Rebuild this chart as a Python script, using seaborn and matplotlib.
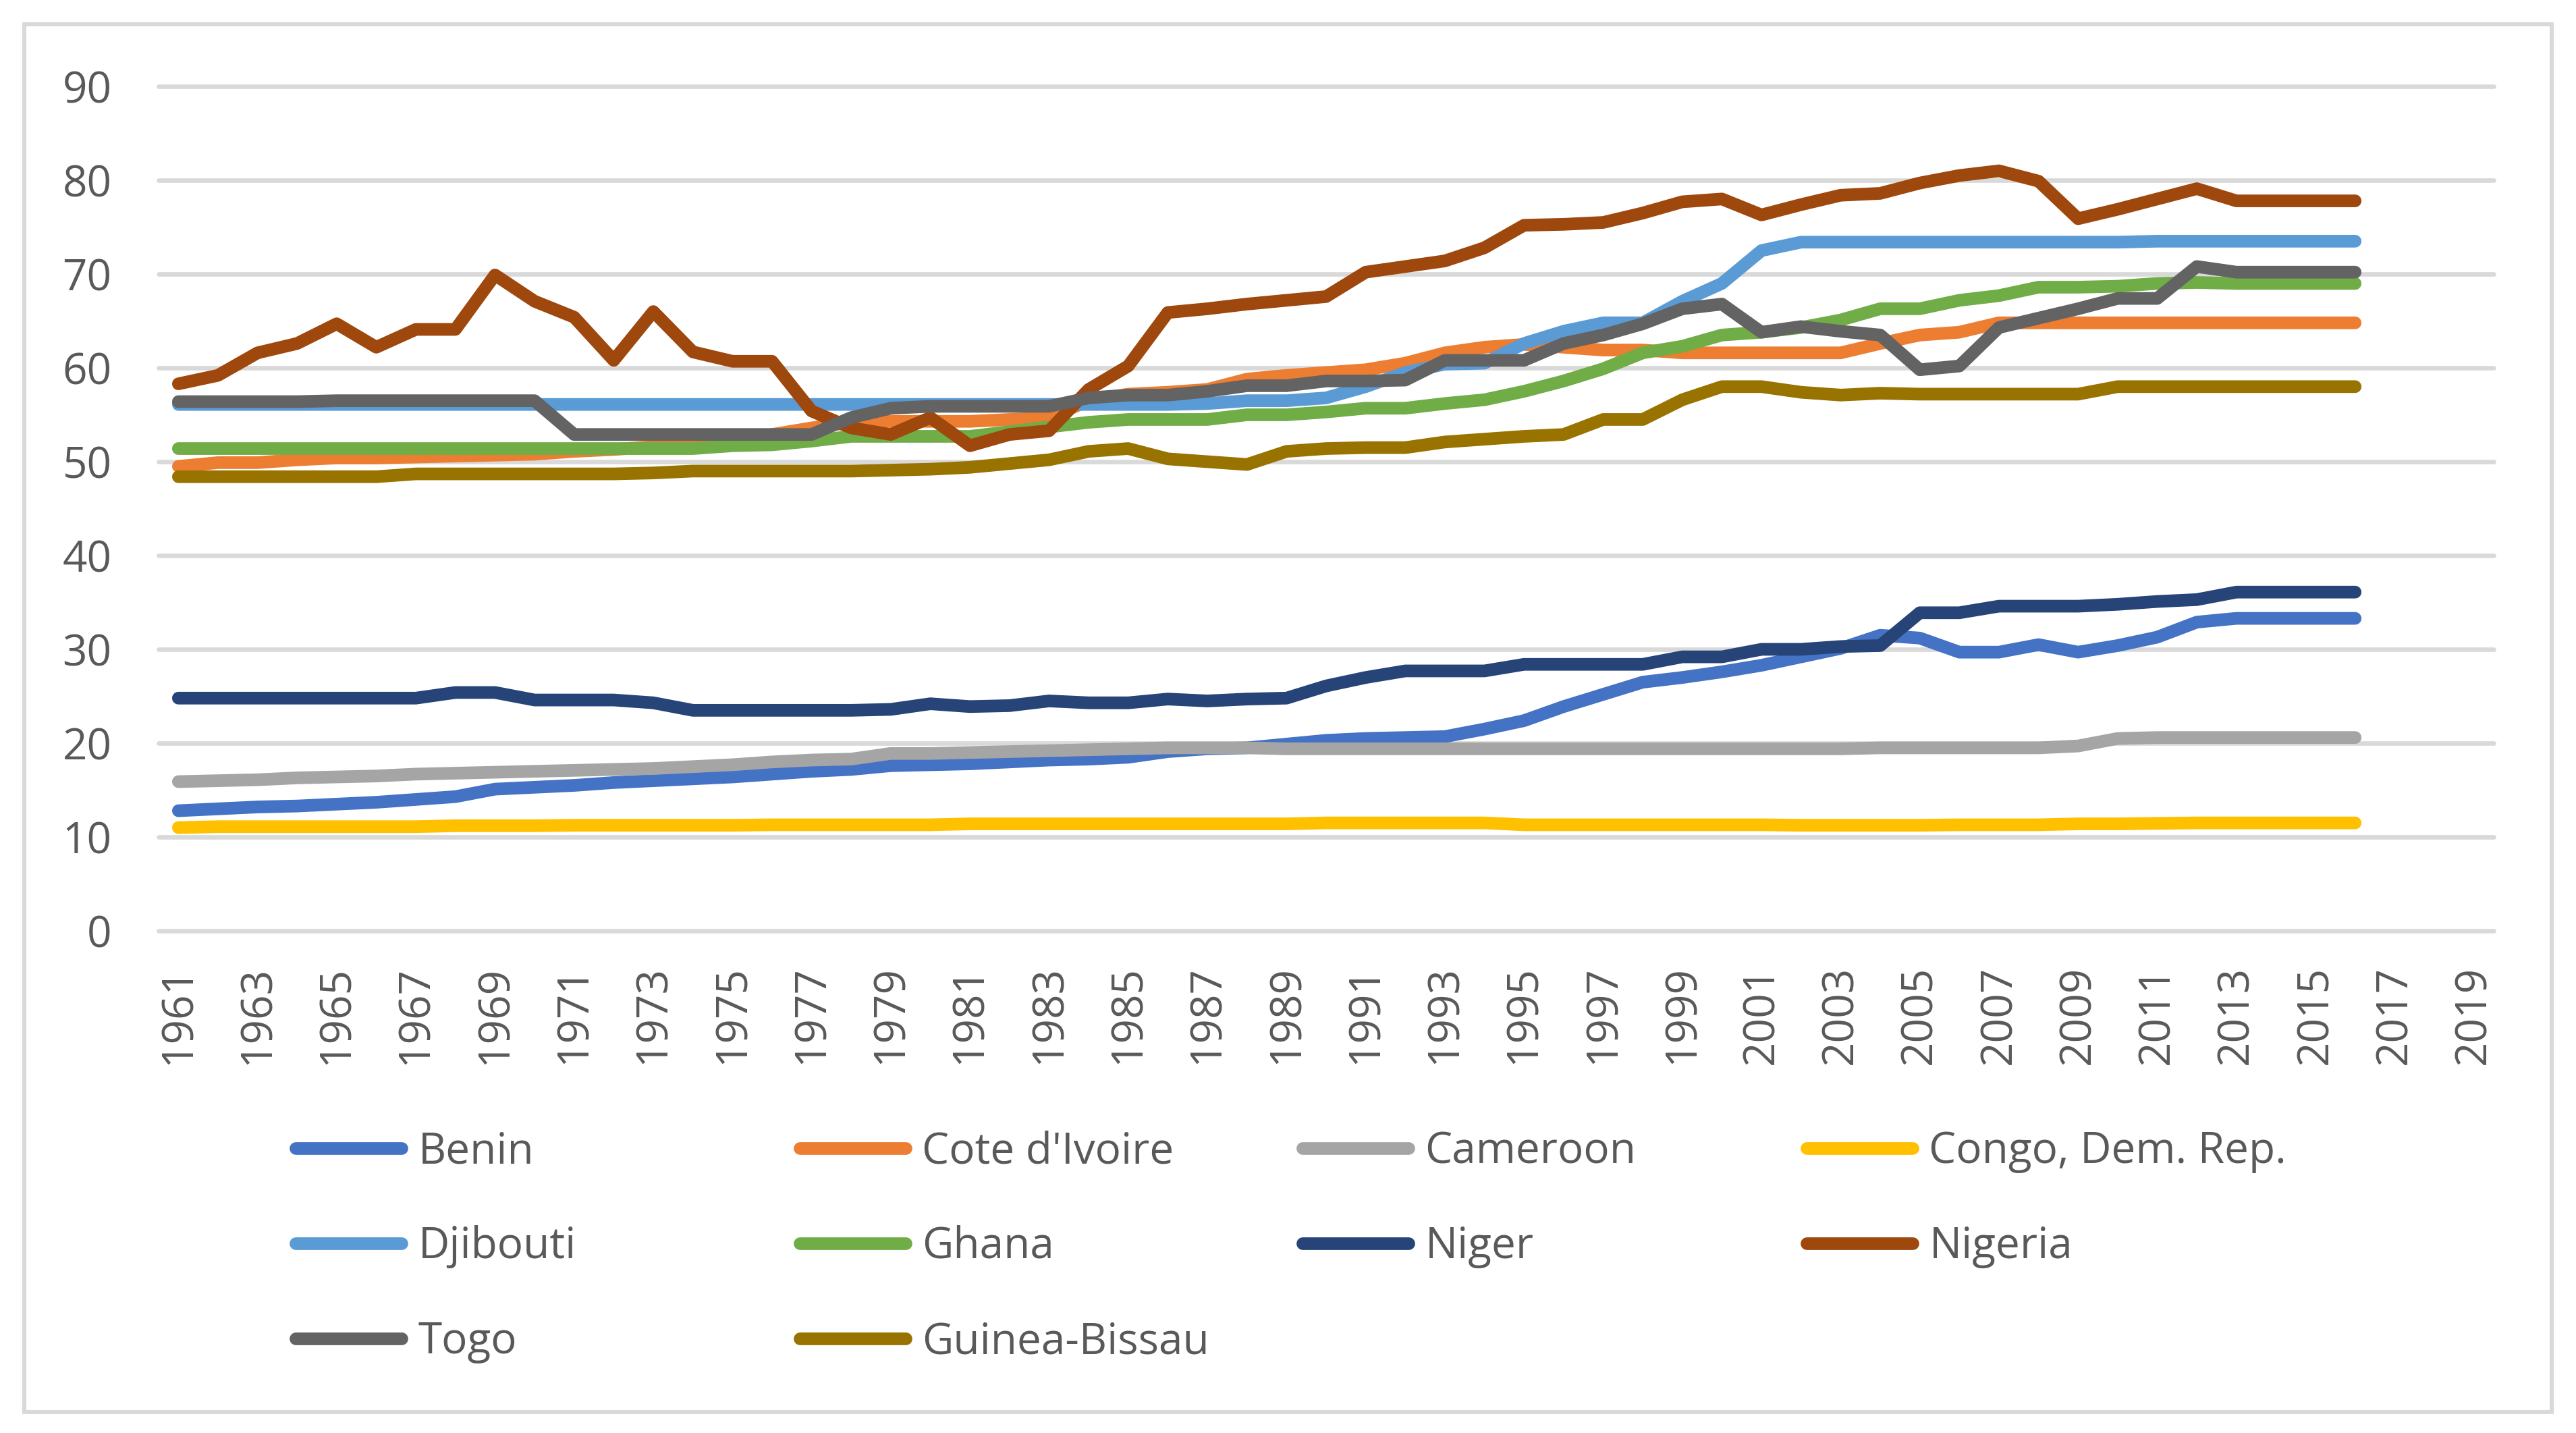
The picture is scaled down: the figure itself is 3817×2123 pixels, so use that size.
import matplotlib
matplotlib.use("Agg")
import matplotlib.pyplot as plt
from matplotlib.lines import Line2D
from matplotlib.patches import Rectangle
import seaborn as sns
import pandas as pd

years = list(range(1961, 2017))

benin = [12.8, 13.0, 13.2, 13.3, 13.5, 13.7, 14.0, 14.3, 15.1, 15.3,
         15.5, 15.8, 16.0, 16.2, 16.4, 16.7, 17.0, 17.2, 17.6, 17.7,
         17.8, 18.0, 18.2, 18.3, 18.5, 19.1, 19.4, 19.5, 19.9, 20.3,
         20.5, 20.6, 20.7, 21.5, 22.4, 23.9, 25.2, 26.5, 27.0, 27.6,
         28.3, 29.2, 30.1, 31.5, 31.2, 29.7, 29.7, 30.5, 29.7, 30.4,
         31.3, 32.9, 33.3, 33.3, 33.3, 33.3]
cote_divoire = [49.5, 49.9, 49.9, 50.2, 50.4, 50.4, 50.5, 50.6, 50.7, 50.8,
                51.1, 51.3, 51.6, 51.8, 52.2, 52.9, 53.6, 54.2, 54.3, 54.3,
                54.3, 54.5, 54.7, 56.5, 57.2, 57.4, 57.7, 58.8, 59.2, 59.5,
                59.8, 60.5, 61.6, 62.2, 62.5, 62.2, 61.9, 61.9, 61.6, 61.6,
                61.6, 61.6, 61.6, 62.6, 63.5, 63.8, 64.8, 64.8, 64.8, 64.8,
                64.8, 64.8, 64.8, 64.8, 64.8, 64.8]
cameroon = [15.9, 16.0, 16.1, 16.3, 16.4, 16.5, 16.7, 16.8, 16.9, 17.0,
            17.1, 17.2, 17.3, 17.5, 17.7, 18.0, 18.2, 18.3, 18.9, 18.9,
            19.0, 19.1, 19.2, 19.3, 19.4, 19.5, 19.5, 19.5, 19.4, 19.4,
            19.4, 19.4, 19.4, 19.4, 19.4, 19.4, 19.4, 19.4, 19.4, 19.4,
            19.4, 19.4, 19.4, 19.5, 19.5, 19.5, 19.5, 19.5, 19.7, 20.5,
            20.6, 20.6, 20.6, 20.6, 20.6, 20.6]
congo = [11.0, 11.1, 11.1, 11.1, 11.1, 11.1, 11.1, 11.2, 11.2, 11.2,
         11.25, 11.25, 11.25, 11.25, 11.25, 11.3, 11.3, 11.3, 11.3, 11.3,
         11.4, 11.4, 11.4, 11.4, 11.4, 11.4, 11.4, 11.4, 11.4, 11.5,
         11.5, 11.5, 11.5, 11.5, 11.3, 11.3, 11.3, 11.3, 11.3, 11.3,
         11.3, 11.25, 11.25, 11.25, 11.25, 11.3, 11.3, 11.3, 11.4, 11.4,
         11.45, 11.5, 11.5, 11.5, 11.5, 11.5]
djibouti = [56.1, 56.1, 56.1, 56.1, 56.1, 56.1, 56.1, 56.1, 56.1, 56.1,
            56.1, 56.1, 56.1, 56.1, 56.1, 56.1, 56.1, 56.1, 56.1, 56.1,
            56.1, 56.1, 56.1, 56.1, 56.1, 56.1, 56.2, 56.5, 56.5, 56.8,
            58.0, 59.5, 60.4, 60.5, 62.6, 63.9, 64.8, 64.8, 67.1, 69.0,
            72.5, 73.4, 73.4, 73.4, 73.4, 73.4, 73.4, 73.4, 73.4, 73.4,
            73.5, 73.5, 73.5, 73.5, 73.5, 73.5]
ghana = [51.4, 51.4, 51.4, 51.4, 51.4, 51.4, 51.4, 51.4, 51.4, 51.4,
         51.4, 51.4, 51.4, 51.4, 51.7, 51.8, 52.2, 52.7, 52.7, 52.7,
         52.7, 53.2, 53.7, 54.2, 54.5, 54.5, 54.5, 55.0, 55.0, 55.3,
         55.7, 55.7, 56.2, 56.6, 57.5, 58.6, 59.9, 61.6, 62.3, 63.5,
         63.8, 64.3, 65.1, 66.3, 66.3, 67.2, 67.7, 68.6, 68.6, 68.7,
         69.0, 69.1, 69.0, 69.0, 69.0, 69.0]
niger = [24.8, 24.8, 24.8, 24.8, 24.8, 24.8, 24.8, 25.4, 25.4, 24.6,
         24.6, 24.6, 24.3, 23.5, 23.5, 23.5, 23.5, 23.5, 23.6, 24.2,
         23.9, 24.0, 24.5, 24.3, 24.3, 24.7, 24.5, 24.7, 24.8, 26.1,
         27.0, 27.7, 27.7, 27.7, 28.4, 28.4, 28.4, 28.4, 29.2, 29.2,
         30.0, 30.0, 30.3, 30.4, 33.9, 33.9, 34.6, 34.6, 34.6, 34.8,
         35.1, 35.3, 36.1, 36.1, 36.1, 36.1]
nigeria = [58.3, 59.2, 61.6, 62.6, 64.7, 62.2, 64.1, 64.1, 69.9, 67.1,
           65.4, 60.8, 66.0, 61.7, 60.7, 60.7, 55.4, 53.6, 52.9, 54.7,
           51.7, 52.9, 53.3, 57.7, 60.2, 65.9, 66.3, 66.8, 67.2, 67.6,
           70.2, 70.8, 71.4, 72.8, 75.2, 75.3, 75.5, 76.5, 77.7, 78.0,
           76.3, 77.4, 78.4, 78.6, 79.7, 80.5, 81.0, 79.9, 75.9, 76.9,
           78.0, 79.1, 77.8, 77.8, 77.8, 77.8]
togo = [56.4, 56.4, 56.4, 56.4, 56.5, 56.5, 56.5, 56.5, 56.5, 56.5,
        52.9, 52.9, 52.9, 52.9, 52.9, 52.9, 52.9, 54.7, 55.7, 55.9,
        55.9, 55.9, 55.9, 56.8, 57.1, 57.1, 57.5, 58.1, 58.1, 58.6,
        58.6, 58.7, 60.8, 60.8, 60.8, 62.6, 63.5, 64.7, 66.3, 66.8,
        63.8, 64.4, 63.9, 63.5, 59.8, 60.2, 64.3, 65.3, 66.3, 67.4,
        67.4, 70.8, 70.2, 70.2, 70.2, 70.2]
guinea_bissau = [48.4, 48.4, 48.4, 48.4, 48.4, 48.4, 48.7, 48.7, 48.7, 48.7,
                 48.7, 48.7, 48.8, 49.0, 49.0, 49.0, 49.0, 49.0, 49.1, 49.2,
                 49.4, 49.8, 50.2, 51.1, 51.4, 50.3, 50.0, 49.7, 51.1, 51.4,
                 51.5, 51.5, 52.1, 52.4, 52.7, 52.9, 54.5, 54.5, 56.6, 58.0,
                 58.0, 57.4, 57.1, 57.3, 57.2, 57.2, 57.2, 57.2, 57.2, 58.0,
                 58.0, 58.0, 58.0, 58.0, 58.0, 58.0]

countries = ["Benin", "Cote d'Ivoire", "Cameroon", "Congo, Dem. Rep.",
             "Djibouti", "Ghana", "Niger", "Nigeria", "Togo", "Guinea-Bissau"]
series = [benin, cote_divoire, cameroon, congo, djibouti,
          ghana, niger, nigeria, togo, guinea_bissau]
colors = ["#4472C4", "#ED7D31", "#A5A5A5", "#FFC000", "#5B9BD5",
          "#70AD47", "#264478", "#9E480E", "#636363", "#997300"]

df = pd.DataFrame({
    "year": years * len(countries),
    "value": [v for s in series for v in s],
    "country": [c for c in countries for _ in years],
})

sns.set_theme(style="white")
plt.rcParams["font.family"] = ["Open Sans", "DejaVu Sans"]
text_color = "#595959"
grid_color = "#D9D9D9"
fs = 46

W, H = 3817, 2123
fig = plt.figure(figsize=(W / 100, H / 100), dpi=100)
ax = fig.add_axes([235 / W, 1 - 1379 / H, (3695 - 235) / W, (1379 - 128) / H])

sns.lineplot(data=df, x="year", y="value", hue="country", hue_order=countries,
             palette=colors, linewidth=13.5, solid_capstyle="round",
             solid_joinstyle="round", legend=False, ax=ax)

ax.set_xlim(1960.5, 2019.5)
ax.set_ylim(0, 90)
ax.set_xticks(range(1961, 2020, 2))
ax.set_yticks(range(0, 91, 10))
ax.set_xlabel("")
ax.set_ylabel("")
ax.yaxis.grid(True, color=grid_color, linewidth=4.8)
ax.xaxis.grid(False)
ax.set_axisbelow(True)
for gl in ax.get_ygridlines():
    gl.set_clip_on(False)
for s in ax.spines.values():
    s.set_visible(False)
ax.tick_params(axis="x", length=0, pad=37, labelsize=fs, labelcolor=text_color,
               labelrotation=90)
ax.tick_params(axis="y", length=0, pad=50, labelsize=fs, labelcolor=text_color)

# legend: one entry per slot, 4 columns x 3 rows like the Excel layout
col_x = [438, 1185, 1930, 2677]
row_y = [1706, 1847, 1988]
for i, (name, col) in enumerate(zip(countries, colors)):
    h = Line2D([], [], color=col, linewidth=13.5, solid_capstyle="round")
    fig.legend(handles=[h], labels=[name], loc="center left",
               bbox_to_anchor=(col_x[i % 4] / W, 1 - row_y[i // 4] / H),
               frameon=False, fontsize=fs, labelcolor=text_color,
               handlelength=2.46, handletextpad=0.38, borderpad=0,
               borderaxespad=0)

# chart area border
fig.add_artist(Rectangle((36 / W, 1 - 2092 / H), (3781 - 36) / W, (2092 - 36) / H,
                         transform=fig.transFigure, fill=False,
                         edgecolor=grid_color, linewidth=4.3))

fig.savefig("out.png", dpi=100, facecolor="white")
